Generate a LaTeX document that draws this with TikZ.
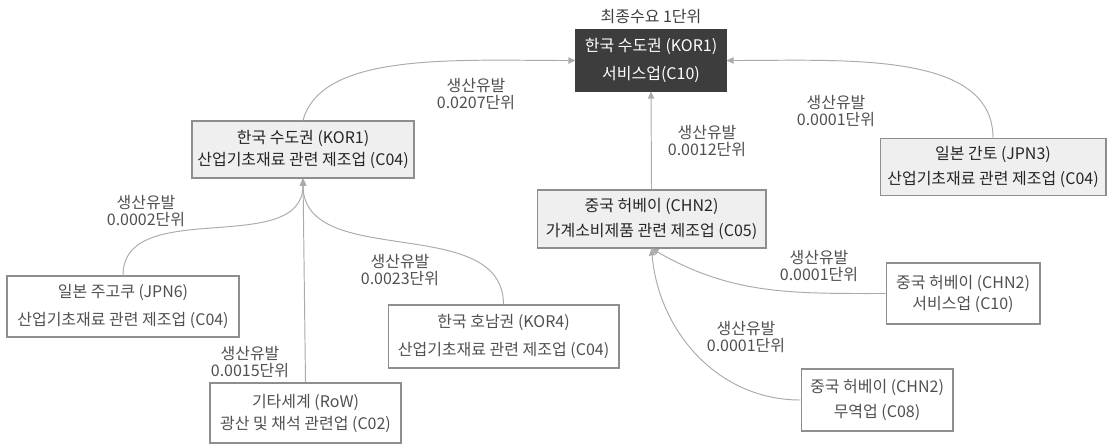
\documentclass[tikz,border=0pt]{standalone}
\usepackage{fontspec}
\setmainfont{Noto Sans CJK KR}
\usepackage{xcolor}
\usetikzlibrary{arrows.meta}
\definecolor{cLine}{HTML}{ABABAB}
\definecolor{cEdge}{HTML}{8E8E8E}
\definecolor{cDark}{HTML}{3D3D3D}
\definecolor{cFill}{HTML}{EFEFEF}
\definecolor{cText}{HTML}{505050}

\begin{document}
\begin{tikzpicture}[x=0.02cm,y=0.02cm,font=\fontsize{9.1}{11.5}\selectfont,
  box/.style={draw=cEdge,line width=0.6pt,align=center,inner sep=0pt,text=cText},
  gbox/.style={box,fill=cFill,text=black!85},
  dbox/.style={box,fill=cDark,draw=cDark,text=white},
  ar/.style={-{Triangle[length=4pt,width=3.6pt]},draw=cLine,line width=0.55pt},
  lbl/.style={font=\fontsize{9.1}{10.2}\selectfont,text=cText,align=center,inner sep=0pt}]
\useasboundingbox (0,0) rectangle (1111,-444);

\node[dbox,minimum width=3cm,minimum height=1.22cm] (kor1svc) at (651,-60.5)
  {한국 수도권 (KOR1)\\[4.5pt]서비스업(C10)};
\node[lbl,text=black!75] (final) at (651,-17) {최종수요 1단위};

\node[gbox,minimum width=4.44cm,minimum height=1.14cm] (kor1mat) at (303,-149.5)
  {한국 수도권 (KOR1)\\[1.5pt]산업기초재료 관련 제조업 (C04)};
\node[gbox,minimum width=4.58cm,minimum height=1.16cm] (chn2con) at (651.5,-219)
  {중국 허베이 (CHN2)\\[2.5pt]가계소비제품 관련 제조업 (C05)};
\node[gbox,minimum width=4.52cm,minimum height=1.14cm] (jpn3mat) at (993,-167)
  {일본 간토 (JPN3)\\[2.5pt]산업기초재료 관련 제조업 (C04)};

\node[box,minimum width=4.64cm,minimum height=1.22cm] (jpn6mat) at (123,-306.5)
  {일본 주고쿠 (JPN6)\\[4pt]산업기초재료 관련 제조업 (C04)};
\node[box,minimum width=4.62cm,minimum height=1.26cm] (kor4mat) at (503.5,-336.5)
  {한국 호남권 (KOR4)\\[4pt]산업기초재료 관련 제조업 (C04)};
\node[box,minimum width=3.82cm,minimum height=1.2cm] (rowmin) at (305.5,-413)
  {기타세계 (RoW)\\[1pt]광산 및 채석 관련업 (C02)};
\node[box,minimum width=3.08cm,minimum height=1.22cm] (chn2svc) at (963,-293.5)
  {중국 허베이 (CHN2)\\[0.5pt]서비스업 (C10)};
\node[box,minimum width=3.04cm,minimum height=1.24cm] (chn2trd) at (877,-400)
  {중국 허베이 (CHN2)\\[2.5pt]무역업 (C08)};

\draw[ar] (kor1mat.north) to[out=75,in=180,out looseness=0.65,in looseness=1.1] (kor1svc.west);
\draw[ar] (jpn3mat.north) to[out=90,in=0,out looseness=0.8,in looseness=1.1] (kor1svc.east);
\draw[ar] (chn2con.north) -- (kor1svc.south);
\draw[ar] (jpn6mat.north) to[out=90,in=-90] (kor1mat.south);
\draw[ar] (rowmin.north) -- (kor1mat.south);
\draw[ar] (kor4mat.north) to[out=90,in=-90] (kor1mat.south);
\draw[ar] (chn2svc.west) to[out=180,in=-30] (chn2con.south);
\draw[ar] (chn2trd.west) to[out=180,in=-85] (chn2con.south);

\node[lbl] (l0207) at (476,-94) {생산유발\\0.0207단위};
\node[lbl] (l0001a) at (836,-111) {생산유발\\0.0001단위};
\node[lbl] (l0012) at (707,-141) {생산유발\\0.0012단위};
\node[lbl] (l0002) at (146,-211) {생산유발\\0.0002단위};
\node[lbl] (l0023) at (400,-270) {생산유발\\0.0023단위};
\node[lbl] (l0015) at (250,-362) {생산유발\\0.0015단위};
\node[lbl] (l0001b) at (819,-266) {생산유발\\0.0001단위};
\node[lbl] (l0001c) at (746,-337) {생산유발\\0.0001단위};
\end{tikzpicture}
\end{document}
